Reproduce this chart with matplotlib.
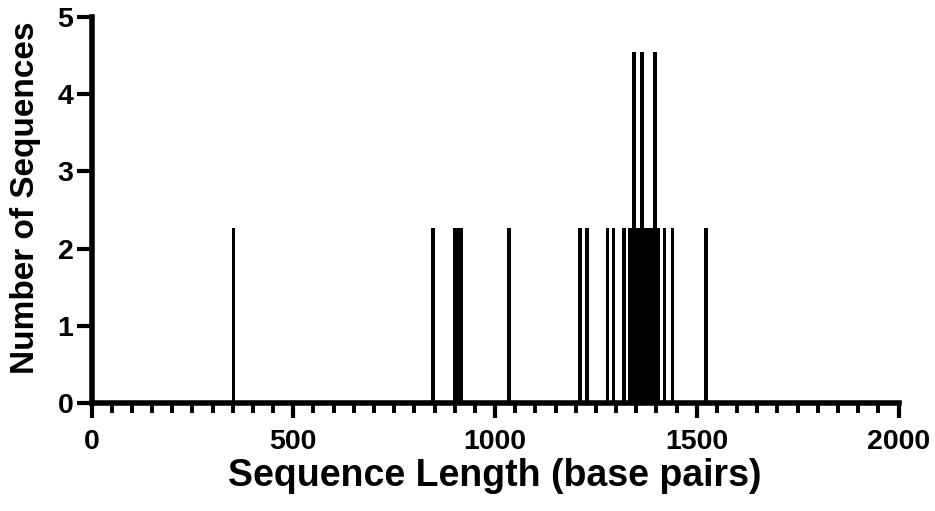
import matplotlib
matplotlib.use("Agg")
import matplotlib.pyplot as plt
from matplotlib.ticker import MultipleLocator

# Bar centers (base pairs) and heights (number of sequences)
bar_centers = [352, 846, 901, 908, 915.5, 1034, 1210, 1227.5, 1279, 1294, 1320,
               1333, 1341, 1349, 1357, 1365, 1373, 1381, 1389, 1397, 1405,
               1420, 1439.5, 1522.5]
bar_heights = [2.27, 2.27, 2.27, 2.27, 2.27, 2.27, 2.27, 2.27, 2.27, 2.27, 2.27,
               2.27, 2.27, 2.27, 2.27, 2.27, 2.27, 2.27, 2.27, 2.27, 2.27,
               2.27, 2.27, 2.27]
tall_centers = [1344.5, 1364, 1396]
tall_heights = [4.55, 4.55, 4.55]

x_ticks = [0, 500, 1000, 1500, 2000]
y_ticks = [0, 1, 2, 3, 4, 5]

plt.rcParams['font.family'] = ['Liberation Sans', 'DejaVu Sans']
plt.rcParams['font.weight'] = 'bold'

fig = plt.figure(figsize=(9.35, 5.11), dpi=100)
ax = fig.add_axes([0.0979, 0.2114, 0.8631, 0.7553])

ax.bar(bar_centers, bar_heights, width=9, color='black', linewidth=0)
ax.bar(tall_centers, tall_heights, width=9, color='black', linewidth=0)

ax.set_xlim(0, 2000)
ax.set_ylim(0, 5)
ax.set_xticks(x_ticks)
ax.set_yticks(y_ticks)
ax.xaxis.set_minor_locator(MultipleLocator(50))

for s in ['top', 'right']:
    ax.spines[s].set_visible(False)
for s in ['left', 'bottom']:
    ax.spines[s].set_linewidth(4)
    ax.spines[s].set_capstyle('projecting')

ax.tick_params(axis='both', which='major', length=11, width=3, labelsize=20.5)
ax.tick_params(axis='y', which='major', pad=2)
ax.tick_params(axis='x', which='major', pad=8)
ax.tick_params(axis='x', which='minor', length=7, width=2.8)

ax.set_xlabel('Sequence Length (base pairs)', fontsize=27, fontweight='bold', labelpad=2)
ax.set_ylabel('Number of Sequences', fontsize=24, fontweight='bold')
ax.yaxis.set_label_coords(-0.063, 0.531)
for lab in ax.get_xticklabels() + ax.get_yticklabels():
    lab.set_fontweight('bold')

fig.savefig('out.png', dpi=100)
